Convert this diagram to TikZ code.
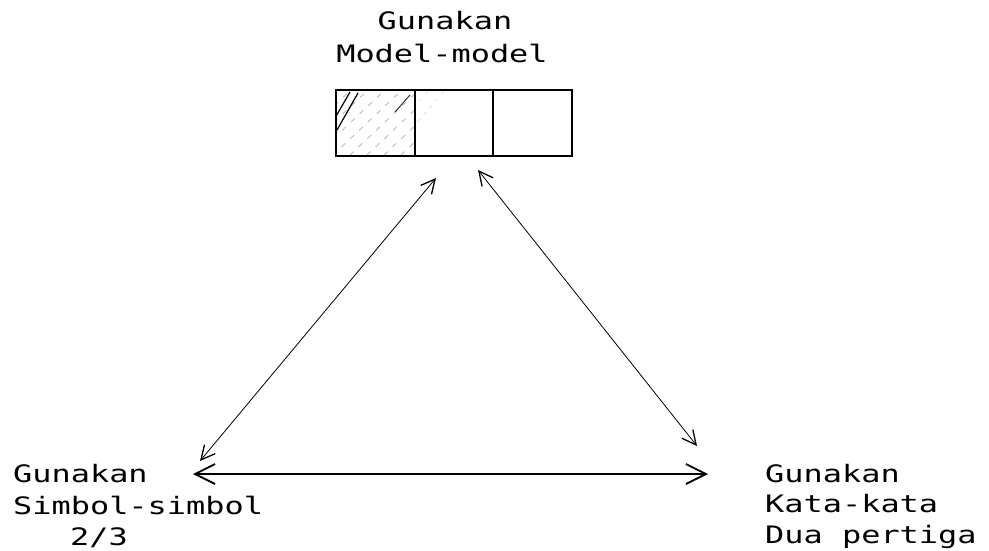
\documentclass[tikz,border=0pt]{standalone}
\usepackage{fontspec}
\newfontfamily\dotfont{DejaVu Sans Mono}
\usetikzlibrary{arrows.meta}
\tikzset{
  lbl/.style={font=\dotfont\fontsize{24}{24}\selectfont, inner sep=0pt, anchor=base west},
  lblc/.style={font=\dotfont\fontsize{24}{24}\selectfont, inner sep=0pt, anchor=base},
  cell/.style={draw=black, line width=1.8pt},
  conn/.style={draw=black, line width=0.8pt, {Straight Barb[length=14pt,width=14pt,line width=1.3pt]}-{Straight Barb[length=14pt,width=14pt,line width=1.3pt]}},
  connh/.style={draw=black, line width=1.2pt, {Straight Barb[length=20pt,width=20pt,line width=1.8pt]}-{Straight Barb[length=20pt,width=20pt,line width=1.8pt]}},
  hatch/.style={draw=gray!60, line width=0.8pt, dash pattern=on 5pt off 7pt}
}
\newcommand{\wide}[1]{\scalebox{1.33}[1]{#1}}
\begin{document}
\begin{tikzpicture}[x=1pt,y=-1pt]
\useasboundingbox (0,0) rectangle (989,550);
% title
\node[lblc] (t1) at (445,29) {\wide{Gunakan}};
\node[lblc] (t2) at (442,62) {\wide{Model-model}};
% box cells
\begin{scope}
\clip (335,89) rectangle (414,155);
\foreach \k in {0,17,...,170} {
  \draw[hatch] (335+\k-70,155) -- (335+\k,89);
}
\draw[black, line width=1.2pt] (335,118) -- (350,92);
\draw[black, line width=1.2pt] (337,130) -- (358,93);
\draw[black!80, line width=1pt] (395,112) -- (410,95);
\end{scope}
\begin{scope}
\clip (414,89) rectangle (450,125);
\foreach \k in {0,16,...,40} {
  \draw[draw=gray!40, line width=0.5pt, dash pattern=on 3pt off 6pt] (414+\k-40,135) -- (414+\k,89);
}
\end{scope}
\node[cell, minimum width=79pt, minimum height=66pt, inner sep=0pt, anchor=north west] (c1) at (335,89) {};
\node[cell, minimum width=78pt, minimum height=66pt, inner sep=0pt, anchor=north west] (c2) at (414,89) {};
\node[cell, minimum width=79pt, minimum height=66pt, inner sep=0pt, anchor=north west] (c3) at (492,89) {};
% left label
\node[lbl] (l1) at (13,482) {\wide{Gunakan}};
\node[lbl] (l2) at (13,514) {\wide{Simbol-simbol}};
\node[lbl] (l3) at (70,545) {\wide{2/3}};
% right label
\node[lbl] (r1) at (765,482) {\wide{Gunakan}};
\node[lbl] (r2) at (765,512) {\wide{Kata-kata}};
\node[lbl] (r3) at (765,543) {\wide{Dua pertiga}};
% arrow endpoints
\coordinate (aTL) at (436,178);
\coordinate (aBL) at (200,461);
\coordinate (aTR) at (478,170);
\coordinate (aBR) at (697,446);
\coordinate (hL) at (193,474);
\coordinate (hR) at (708,474);
\draw[conn] (aBL) -- (aTL);
\draw[conn] (aTR) -- (aBR);
\draw[connh] (hL) -- (hR);
\end{tikzpicture}
\end{document}
